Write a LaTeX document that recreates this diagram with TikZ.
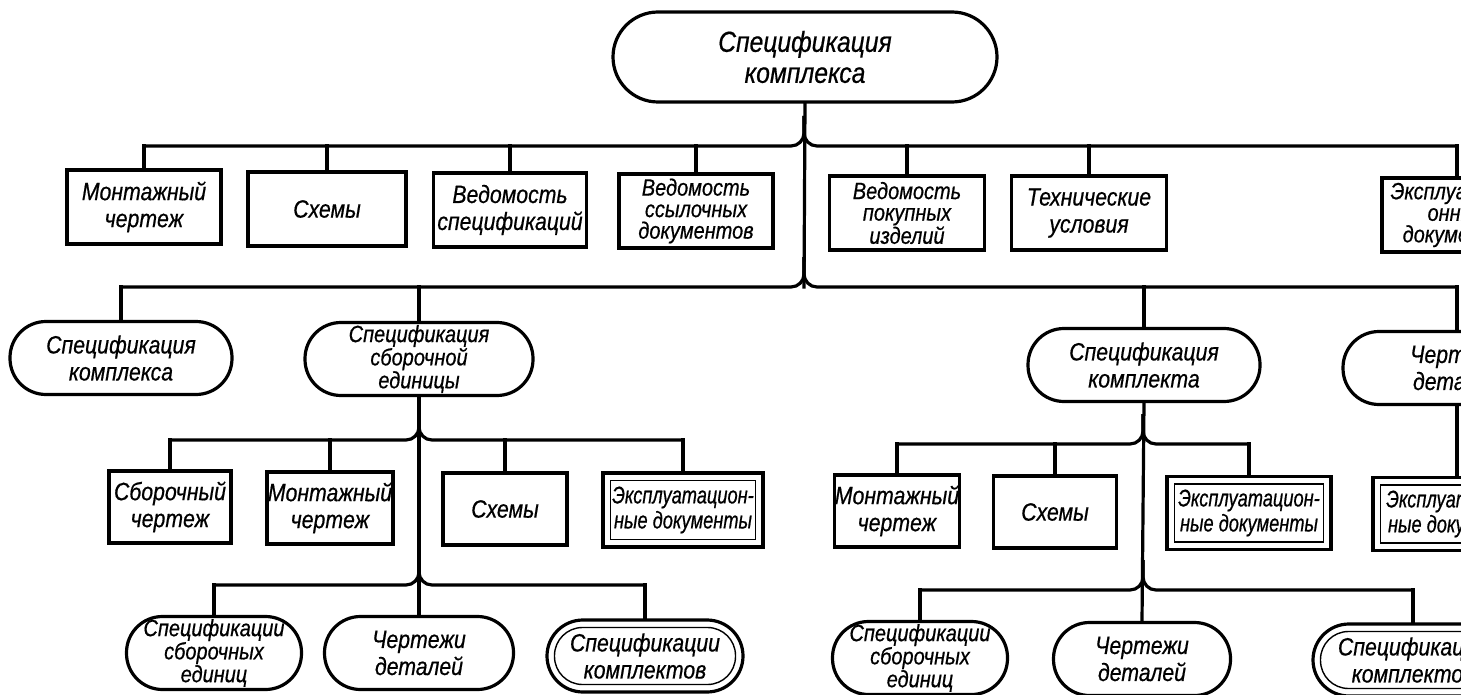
\documentclass[tikz,border=0pt]{standalone}
\usepackage{fontspec}
\newfontfamily\gost{Liberation Sans}[FakeStretch=0.85,FakeBold=0.6]
\newfontfamily\gostn{Liberation Sans}[FakeStretch=0.76,FakeBold=0.6]
\begin{document}
\begin{tikzpicture}[x=1pt,y=-1pt,
  every node/.style={font=\gost\itshape\fontsize{25}{27}\selectfont, align=center, inner sep=0pt},
  three/.style={font=\gost\itshape\fontsize{23.5}{21.5}\selectfont},
  narrow/.style={font=\gostn\itshape\fontsize{24}{25}\selectfont},
  box/.style={draw, line width=3.2pt, rectangle, minimum height=74pt},
  dbox/.style={box, narrow, path picture={\draw[line width=1.4pt] ([shift={(7.5pt,7.5pt)}]path picture bounding box.south west) rectangle ([shift={(-7.5pt,-7.5pt)}]path picture bounding box.north east);}},
  pill/.style={draw, line width=3.2pt, rectangle, rounded corners=36pt, minimum height=73pt},
  dpill/.style={pill, path picture={\draw[line width=1.4pt, rounded corners=28pt] ([shift={(7.5pt,7.5pt)}]path picture bounding box.south west) rectangle ([shift={(-7.5pt,-7.5pt)}]path picture bounding box.north east);}},
  conn/.style={line width=3.2pt, line cap=rect},
  bus/.style={line width=3.2pt, rounded corners=13pt}
]
\useasboundingbox (0,0) rectangle (1461,695);
\clip (0,0) rectangle (1461,695);

% top
\node[pill, rounded corners=45pt, minimum width=384pt, minimum height=90pt, font=\gost\itshape\fontsize{29}{31}\selectfont] (top) at (805,57) {Спецификация\\комплекса};

% row 1
\node[box, minimum width=154pt] (r1a) at (144,207) {Монтажный\\чертеж};
\node[box, minimum width=158pt] (r1b) at (327,209) {Схемы};
\node[box, minimum width=153pt] (r1c) at (510,210) {Ведомость\\спецификаций};
\node[box, three, minimum width=154pt] (r1d) at (696,211) {Ведомость\\ссылочных\\документов};
\node[box, three, minimum width=155pt] (r1e) at (907,213) {Ведомость\\покупных\\изделий};
\node[box, minimum width=155pt] (r1f) at (1089,213) {Технические\\условия};
\node[box, three, minimum width=150pt] (r1g) at (1457,215) {Эксплуатаци-\\онные\\документы};

\coordinate (J0) at (804,146);
\draw[bus] (r1a.north |- J0) -- (J0) -- ++(0,-30);
\draw[bus] (r1g.north |- J0) -- (J0) -- ++(0,-30);
\foreach \n in {r1a,r1b,r1c,r1d,r1e,r1f,r1g} \draw[conn] (\n.north) -- (\n.north |- J0);

% row 2
\node[pill, minimum width=222pt] (r2a) at (121,358) {Спецификация\\комплекса};
\node[pill, three, minimum width=228pt] (r2b) at (419,359) {Спецификация\\сборочной\\единицы};
\node[pill, minimum width=232pt] (r2c) at (1144,365) {Спецификация\\комплекта};
\node[pill, minimum width=228pt] (r2d) at (1457,368) {Чертежи\\деталей};

\coordinate (J1) at (804,287);
\draw[conn] (top.south) -- (J1);
\draw[bus] (r2a.north |- J1) -- (J1) -- ++(0,-30);
\draw[bus] (r2d.north |- J1) -- (J1) -- ++(0,-30);
\foreach \n in {r2a,r2b,r2c,r2d} \draw[conn] (\n.north) -- (\n.north |- J1);

% left subtree, row 3
\node[box, minimum width=122pt, minimum height=72pt] (l3a) at (170,507) {Сборочный\\чертеж};
\node[box, minimum width=126pt, minimum height=72pt] (l3b) at (330,508) {Монтажный\\чертеж};
\node[box, minimum width=124pt, minimum height=72pt] (l3c) at (505,509) {Схемы};
\node[dbox, minimum width=160pt, minimum height=74pt] (l3d) at (683,510) {Эксплуатацион-\\ные документы};

% left subtree, row 4
\node[pill, three, minimum width=175pt] (l4a) at (214,653) {Спецификации\\сборочных\\единиц};
\node[pill, minimum width=189pt] (l4b) at (419,653) {Чертежи\\деталей};
\node[dpill, minimum width=196pt, minimum height=72pt] (l4c) at (645,656) {Спецификации\\комплектов};

\coordinate (J2) at (419,440);
\coordinate (J3) at (419,585);
\draw[conn] (r2b.south) -- (l4b.north);
\draw[bus] (l3a.north |- J2) -- (J2) -- ++(0,-30);
\draw[bus] (l3d.north |- J2) -- (J2) -- ++(0,-30);
\foreach \n in {l3a,l3b,l3c,l3d} \draw[conn] (\n.north) -- (\n.north |- J2);
\draw[bus] (l4a.north |- J3) -- (J3) -- ++(0,-30);
\draw[bus] (l4c.north |- J3) -- (J3) -- ++(0,-30);
\foreach \n in {l4a,l4c} \draw[conn] (\n.north) -- (\n.north |- J3);

% right subtree, row 3
\node[box, minimum width=124pt, minimum height=72pt] (m3a) at (897,511) {Монтажный\\чертеж};
\node[box, minimum width=123pt, minimum height=72pt] (m3b) at (1055,512) {Схемы};
\node[dbox, minimum width=164pt, minimum height=73pt] (m3c) at (1249,513) {Эксплуатацион-\\ные документы};
\node[dbox, minimum width=168pt, minimum height=73pt] (d3) at (1457,514) {Эксплуатацион-\\ные документы};

% right subtree, row 4
\node[pill, three, minimum width=175pt] (m4a) at (920,658) {Спецификации\\сборочных\\единиц};
\node[pill, minimum width=177pt] (m4b) at (1142,659) {Чертежи\\деталей};
\node[dpill, minimum width=200pt, minimum height=72pt] (m4c) at (1413,660) {Спецификации\\комплектов};

\coordinate (J4) at (1143,444);
\coordinate (J5) at (1143,590);
\draw[conn] (r2c.south) -- (m4b.north);
\draw[bus] (m3a.north |- J4) -- (J4) -- ++(0,-30);
\draw[bus] (m3c.north |- J4) -- (J4) -- ++(0,-30);
\foreach \n in {m3a,m3b,m3c} \draw[conn] (\n.north) -- (\n.north |- J4);
\draw[bus] (m4a.north |- J5) -- (J5) -- ++(0,-30);
\draw[bus] (m4c.north |- J5) -- (J5) -- ++(0,-30);
\foreach \n in {m4a,m4c} \draw[conn] (\n.north) -- (\n.north |- J5);

\draw[conn] (r2d.south) -- (d3.north);
\end{tikzpicture}
\end{document}
